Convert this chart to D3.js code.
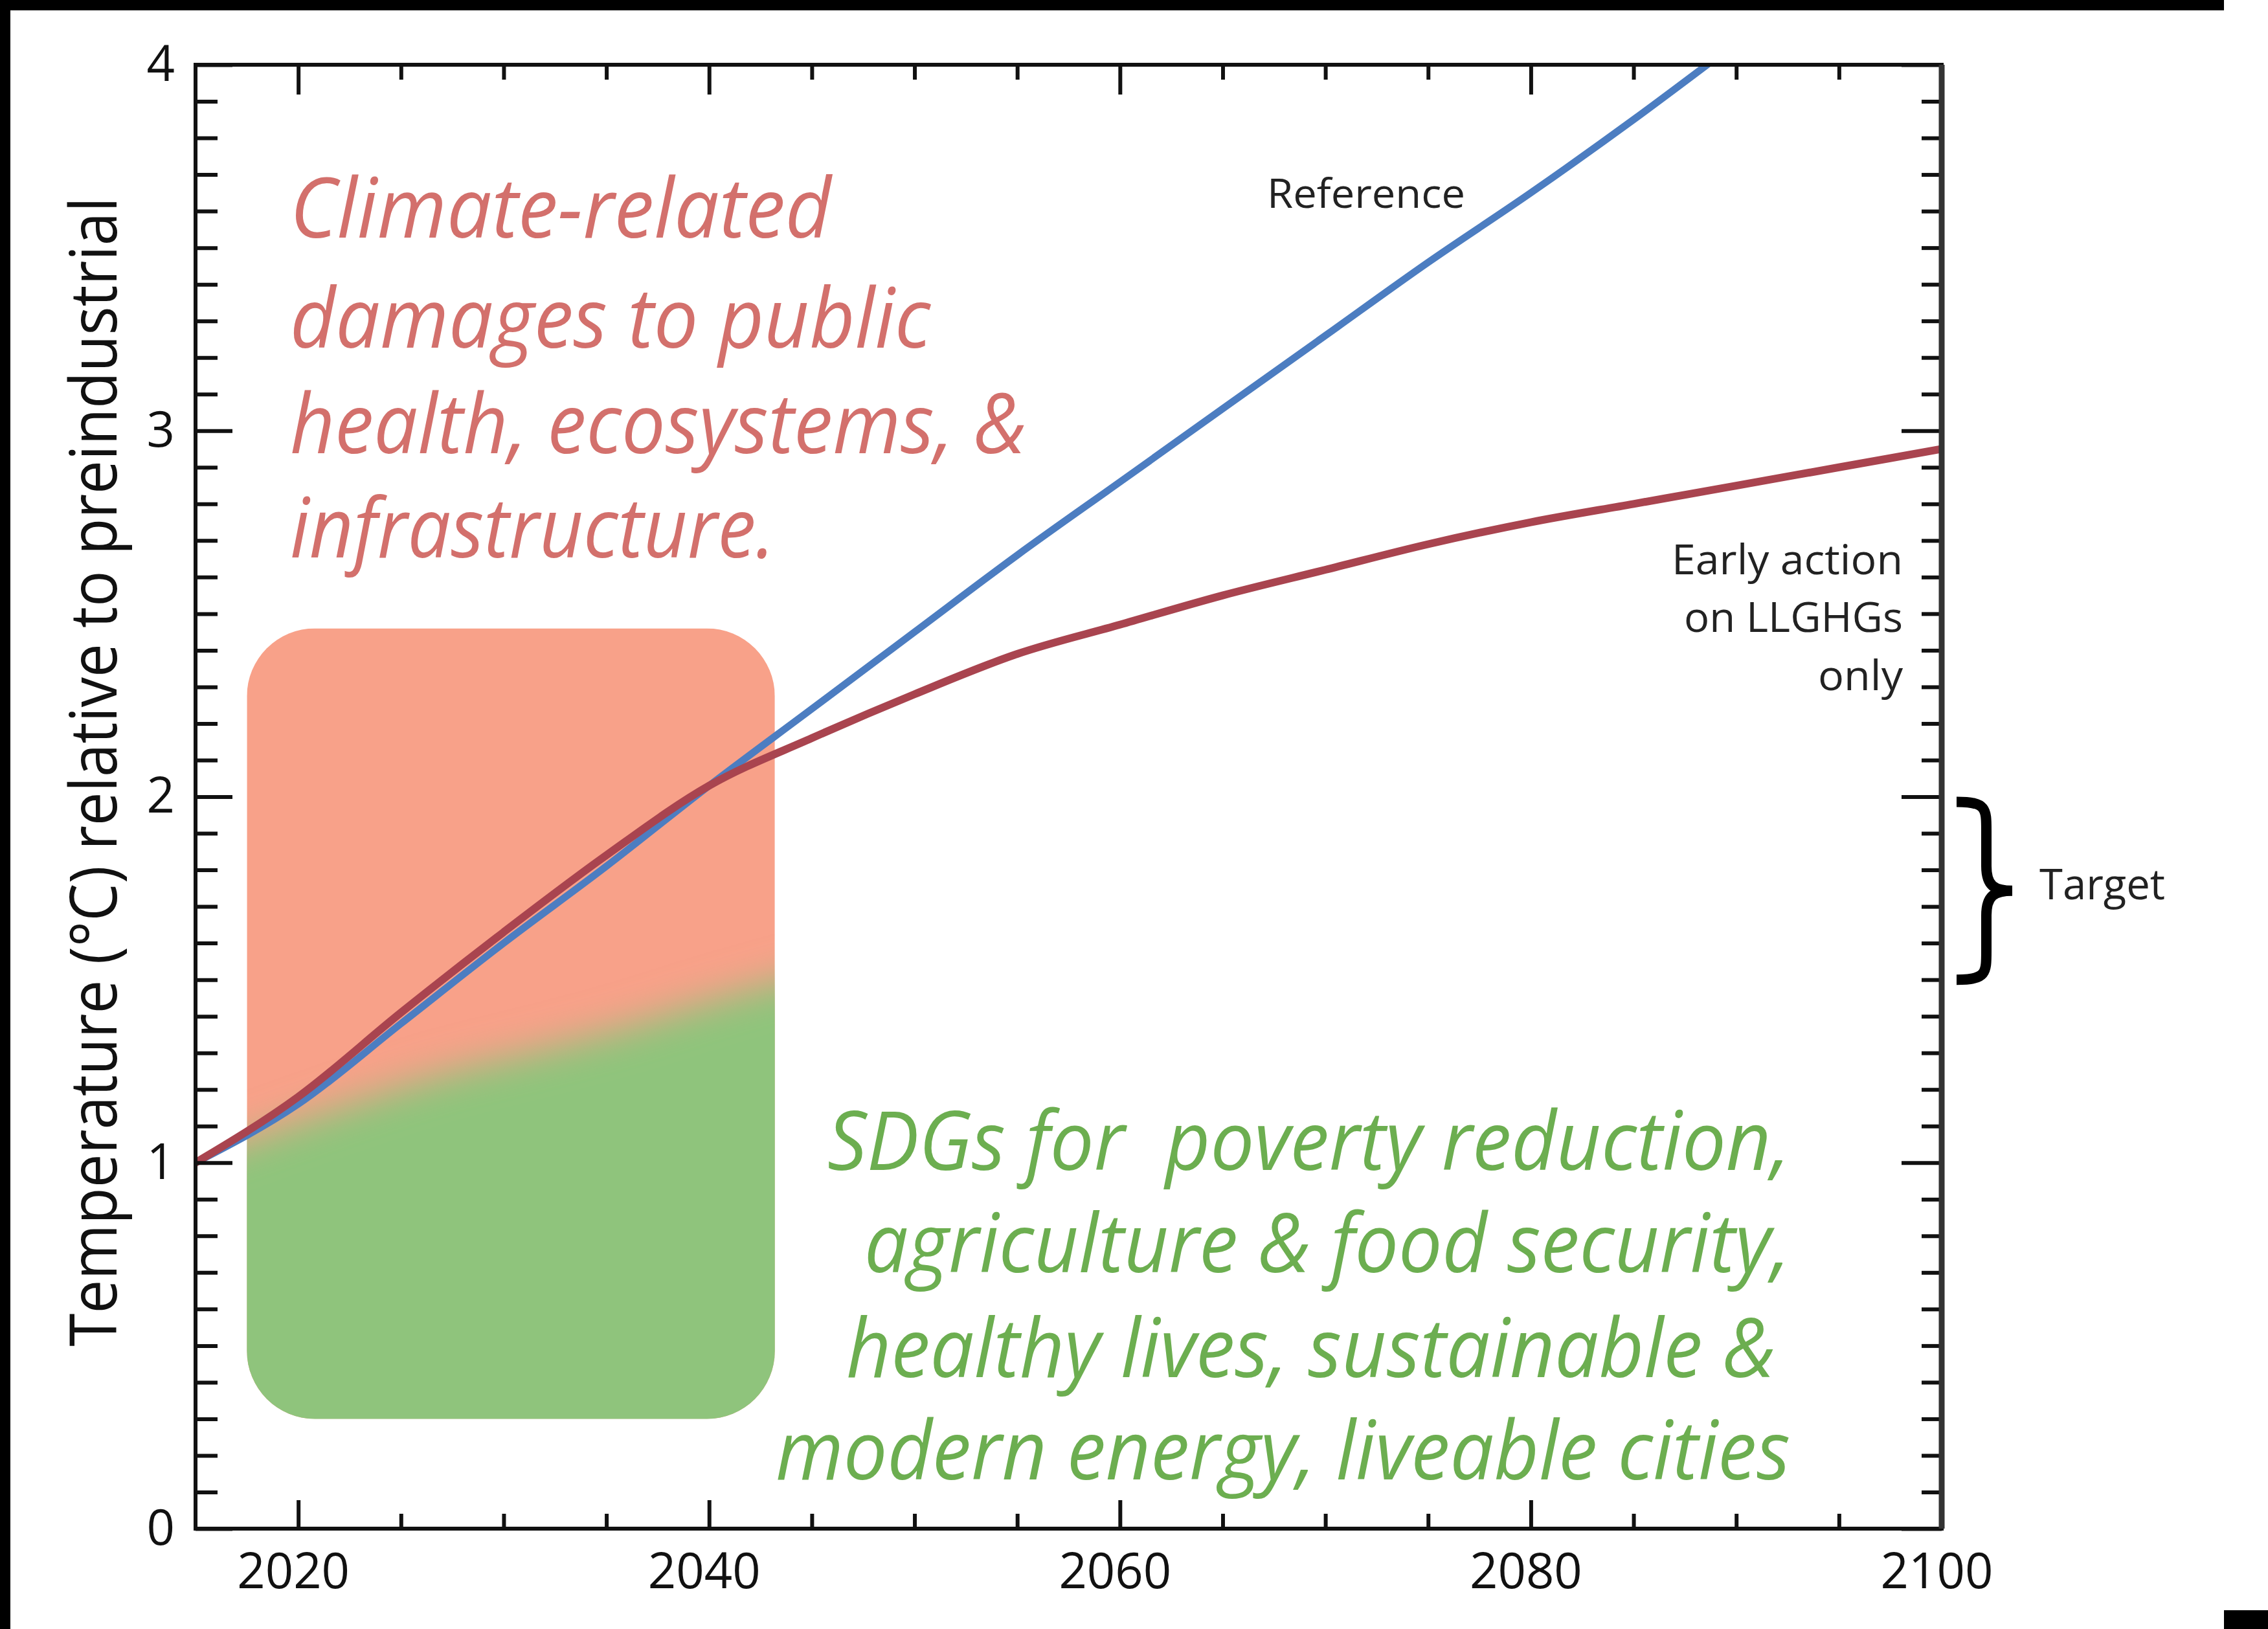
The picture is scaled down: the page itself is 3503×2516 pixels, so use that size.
<!DOCTYPE html>
<html>
<head>
<meta charset="utf-8">
<script src="https://cdn.jsdelivr.net/npm/d3@7"></script>
<style>
  html, body { margin: 0; padding: 0; background: #fff; }
  svg { display: block; }
  text { font-family: "Open Sans", "Noto Sans", sans-serif; white-space: pre; }
</style>
</head>
<body>
<svg id="chart" width="3503" height="2516"></svg>
<script>
// data
const years = [2015, 2020, 2025, 2030, 2035, 2040, 2045, 2050, 2055, 2060, 2065, 2070, 2075, 2080, 2085, 2090, 2095, 2100]
const referenceTemp = [1.00, 1.16, 1.38, 1.60, 1.81, 2.03, 2.24, 2.45, 2.66, 2.86, 3.06, 3.26, 3.46, 3.65, 3.85, 4.06]
const earlyActionTemp = [1.00, 1.18, 1.41, 1.63, 1.84, 2.03, 2.16, 2.28, 2.39, 2.47, 2.55, 2.62, 2.69, 2.75, 2.80, 2.85, 2.90, 2.95]

const yTickLabels = [0, 1, 2, 3, 4]
const xTickLabels = [2020, 2040, 2060, 2080, 2100]
const targetRange = [1.5, 2.0]

// shaded box: years and temperatures it covers, and the salmon/green split
const boxYears = [2017.5, 2043.2]
const boxTemps = [0.30, 2.46]
const splitYears = [2016, 2022, 2027, 2032, 2036, 2040, 2045]
const splitTemps = [1.03, 1.15, 1.24, 1.31, 1.37, 1.44, 1.52]

const damageLines = ['Climate-related', 'damages to public', 'health, ecosystems, &', 'infrastructure.']
const sdgLines = ['SDGs for  poverty reduction,', 'agriculture & food security,', 'healthy lives, sustainable &', 'modern energy, liveable cities']
const earlyLabelLines = ['Early action', 'on LLGHGs', 'only']

const W = 3503
const H = 2516
const plot = { left: 302, right: 2999, top: 100, bottom: 2361 }

const svg = d3.select('#chart')
const x = d3.scaleLinear().domain([2015, 2100]).range([plot.left, plot.right])
const y = d3.scaleLinear().domain([0, 4]).range([plot.bottom, plot.top])

const defs = svg.append('defs')
defs.append('clipPath').attr('id', 'plotClip')
  .append('rect')
    .attr('x', plot.left).attr('y', plot.top)
    .attr('width', plot.right - plot.left).attr('height', plot.bottom - plot.top)

let bx0 = x(boxYears[0]), bx1 = x(boxYears[1])
let by0 = y(boxTemps[1]), by1 = y(boxTemps[0])
defs.append('clipPath').attr('id', 'boxClip')
  .append('rect')
    .attr('x', bx0).attr('y', by0)
    .attr('width', bx1 - bx0).attr('height', by1 - by0)
    .attr('rx', 105).attr('ry', 105)
defs.append('filter').attr('id', 'soft')
    .attr('filterUnits', 'userSpaceOnUse')
    .attr('x', 0).attr('y', 0).attr('width', W).attr('height', H)
  .append('feGaussianBlur').attr('stdDeviation', 30)

svg.append('rect').attr('width', W).attr('height', H).attr('fill', '#fff')

// shaded box
let box = svg.append('g').attr('clip-path', 'url(#boxClip)')
box.append('rect')
  .attr('x', bx0).attr('y', by0)
  .attr('width', bx1 - bx0).attr('height', by1 - by0)
  .attr('fill', '#f8a189')
let split = splitYears.map((d, i) => [x(d), y(splitTemps[i])])
let splitPath = d3.line().curve(d3.curveMonotoneX)(split)
let first = split[0], last = split[split.length - 1]
box.append('path')
  .attr('d', 'M' + (first[0] - 250) + ',' + first[1] + 'L' + splitPath.slice(1) +
    'L' + (last[0] + 250) + ',' + last[1] +
    'L' + (last[0] + 250) + ',' + (by1 + 250) +
    'L' + (first[0] - 250) + ',' + (by1 + 250) + 'Z')
  .attr('fill', '#8fc47b')
  .attr('filter', 'url(#soft)')

// text blocks
let damageText = svg.append('g')
  .attr('fill', '#d3706c')
  .attr('font-size', 128)
  .attr('font-style', 'italic')
const damageBase = [367, 537, 700, 861]
const damageWidth = [836, 989, 1137, 749]
damageText.selectAll('text')
  .data(damageLines)
  .enter().append('text')
    .attr('x', 448)
    .attr('y', (d, i) => damageBase[i])
    .attr('textLength', (d, i) => damageWidth[i])
    .attr('lengthAdjust', 'spacingAndGlyphs')
    .text(d => d)

let sdgText = svg.append('g')
  .attr('fill', '#6cae50')
  .attr('font-size', 126)
  .attr('font-style', 'italic')
  .attr('text-anchor', 'end')
const sdgBase = [1807, 1965, 2127, 2285]
const sdgRight = [2765, 2765, 2742, 2765]
const sdgWidth = [1487, 1430, 1435, 1567]
sdgText.selectAll('text')
  .data(sdgLines)
  .enter().append('text')
    .attr('x', (d, i) => sdgRight[i])
    .attr('y', (d, i) => sdgBase[i])
    .attr('textLength', (d, i) => sdgWidth[i])
    .attr('lengthAdjust', 'spacingAndGlyphs')
    .text(d => d)

// series
let line = d3.line()
  .x((d, i) => x(years[i]))
  .y(d => y(d))
  .curve(d3.curveMonotoneX)
let series = svg.append('g').attr('clip-path', 'url(#plotClip)').attr('fill', 'none')
series.append('path')
  .datum(referenceTemp)
  .attr('d', line)
  .attr('stroke', '#4c7dc1')
  .attr('stroke-width', 11)
  .attr('stroke-linejoin', 'round')
series.append('path')
  .datum(earlyActionTemp)
  .attr('d', line)
  .attr('stroke', '#a9444f')
  .attr('stroke-width', 12)
  .attr('stroke-linejoin', 'round')

// ticks on all four sides, pointing inward
function ticks (axis, values, size, transform) {
  svg.append('g')
    .attr('transform', transform)
    .call(axis.tickValues(values).tickSize(size).tickFormat(''))
    .call(g => g.select('.domain').remove())
    .selectAll('line')
      .attr('stroke', '#111')
      .attr('stroke-width', 6)
}
let yMinor = d3.range(1, 40).filter(d => d % 10 !== 0).map(d => d / 10)
let xMinor = d3.range(2020, 2100, 5).filter(d => d % 20 !== 0)
ticks(d3.axisRight(y), yMinor, 34, `translate(${plot.left},0)`)
ticks(d3.axisRight(y), yTickLabels, 57, `translate(${plot.left},0)`)
ticks(d3.axisLeft(y), yMinor, 31, `translate(${plot.right},0)`)
ticks(d3.axisLeft(y), yTickLabels, 62, `translate(${plot.right},0)`)
ticks(d3.axisBottom(x), xMinor, 23, `translate(0,${plot.top})`)
ticks(d3.axisBottom(x), xTickLabels, 46, `translate(0,${plot.top})`)
ticks(d3.axisTop(x), xMinor, 23, `translate(0,${plot.bottom})`)
ticks(d3.axisTop(x), xTickLabels, 44, `translate(0,${plot.bottom})`)

svg.append('rect')
  .attr('x', plot.left).attr('y', plot.top)
  .attr('width', plot.right - plot.left).attr('height', plot.bottom - plot.top)
  .attr('fill', 'none').attr('stroke', '#111').attr('stroke-width', 6)
svg.append('line')
  .attr('x1', plot.right).attr('x2', plot.right)
  .attr('y1', plot.top).attr('y2', plot.bottom)
  .attr('stroke', '#333').attr('stroke-width', 9)

// tick labels
svg.append('g')
  .attr('transform', `translate(${plot.left},0)`)
  .call(d3.axisLeft(y).tickValues(yTickLabels).tickSize(0).tickPadding(32).tickFormat(d3.format('d')))
  .call(g => g.select('.domain').remove())
  .call(g => g.selectAll('text').attr('font-size', 76).attr('font-family', '"Open Sans", sans-serif').attr('fill', '#111'))
svg.append('g')
  .attr('transform', `translate(-8,${plot.bottom})`)
  .call(d3.axisBottom(x).tickValues(xTickLabels).tickSize(0).tickPadding(38).tickFormat(d3.format('d')))
  .call(g => g.select('.domain').remove())
  .call(g => g.selectAll('text').attr('font-size', 76).attr('font-family', '"Open Sans", sans-serif').attr('fill', '#111'))

svg.append('text')
  .attr('transform', 'translate(180,1192) rotate(-90)')
  .attr('text-anchor', 'middle')
  .attr('font-size', 100)
  .attr('fill', '#111')
  .attr('textLength', 1775)
  .attr('lengthAdjust', 'spacingAndGlyphs')
  .text('Temperature (°C) relative to preindustrial')

// series labels
svg.append('text')
  .attr('x', 1957).attr('y', 321)
  .attr('font-size', 62).attr('fill', '#222')
  .attr('textLength', 306).attr('lengthAdjust', 'spacingAndGlyphs')
  .text('Reference')
const earlyBase = [887, 976, 1066]
const earlyWidth = [357, 338, 131]
svg.append('g')
  .attr('font-size', 64).attr('fill', '#222').attr('text-anchor', 'end')
  .selectAll('text')
  .data(earlyLabelLines)
  .enter().append('text')
    .attr('x', 2939)
    .attr('y', (d, i) => earlyBase[i])
    .attr('textLength', (d, i) => earlyWidth[i])
    .attr('lengthAdjust', 'spacingAndGlyphs')
    .text(d => d)

// target brace
let yt = y(targetRange[1]) + 8, yb = y(targetRange[0]), ym = (yt + yb) / 2
let b0 = 3022, spine = 3068, tip = 3108
svg.append('path')
  .attr('d', `M${b0},${yt} C${spine},${yt} ${spine},${yt + 10} ${spine},${yt + 45}` +
    ` L${spine},${ym - 38} C${spine},${ym - 8} ${spine + 12},${ym} ${tip},${ym}` +
    ` C${spine + 12},${ym} ${spine},${ym + 8} ${spine},${ym + 38}` +
    ` L${spine},${yb - 45} C${spine},${yb - 10} ${spine},${yb} ${b0},${yb}`)
  .attr('fill', 'none')
  .attr('stroke', '#000')
  .attr('stroke-width', 16)
svg.append('text')
  .attr('x', 3150).attr('y', 1389)
  .attr('font-size', 66).attr('fill', '#222')
  .attr('textLength', 194).attr('lengthAdjust', 'spacingAndGlyphs')
  .text('Target')

// dark frame edges of the picture
svg.append('rect').attr('x', 0).attr('y', 0).attr('width', 3435).attr('height', 16).attr('fill', '#000')
svg.append('rect').attr('x', 0).attr('y', 0).attr('width', 16).attr('height', H).attr('fill', '#000')
svg.append('rect').attr('x', 3435).attr('y', 2487).attr('width', 68).attr('height', 29).attr('fill', '#000')
</script>
</body>
</html>
